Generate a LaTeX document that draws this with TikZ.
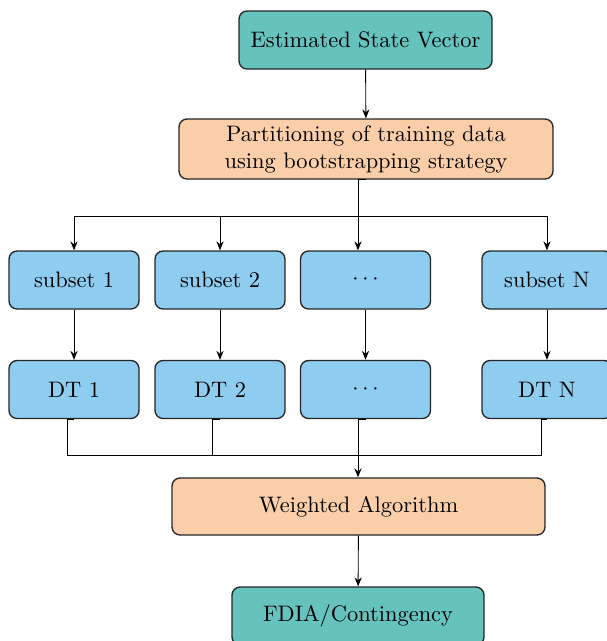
\documentclass[tikz,border=0pt]{standalone}
\usetikzlibrary{arrows.meta}
\definecolor{tealbox}{RGB}{102,194,189}
\definecolor{peachbox}{RGB}{251,206,170}
\definecolor{bluebox}{RGB}{142,204,240}
\def\u{0.446pt}
\tikzset{
  box/.style={draw=black!85, rounded corners=3.6pt, line width=0.6pt, align=center, inner sep=0pt},
  tealnode/.style={box, fill=tealbox},
  peachnode/.style={box, fill=peachbox},
  bluenode/.style={box, fill=bluebox, minimum width=130*\u, minimum height=58*\u},
  conn/.style={line width=0.4pt, -{Stealth[length=4pt,width=3.2pt]}},
  plain/.style={line width=0.4pt},
}
\begin{document}
\begin{tikzpicture}[x=\u, y=-\u]
\useasboundingbox (0,0) rectangle (606,641);
\node[tealnode, minimum width=253*\u, minimum height=58*\u] (esv) at (365.5,40) {Estimated State Vector};
\node[peachnode, minimum width=374*\u, minimum height=60*\u] (part) at (366,149) {Partitioning of training data\\using bootstrapping strategy};
\node[bluenode] (s1) at (74,280) {subset 1};
\node[bluenode] (s2) at (220,280) {subset 2};
\node[bluenode] (s3) at (365.5,280) {$\cdots$};
\node[bluenode] (sN) at (547,280) {subset N};
\node[bluenode] (d1) at (74,389.5) {DT 1};
\node[bluenode] (d2) at (220,389.5) {DT 2};
\node[bluenode] (d3) at (365.5,389.5) {$\cdots$};
\node[bluenode] (dN) at (547,389.5) {DT N};
\node[peachnode, minimum width=373*\u, minimum height=57*\u] (wa) at (358.5,506.5) {Weighted Algorithm};
\node[tealnode, minimum width=252*\u, minimum height=58*\u] (fd) at (358,616) {FDIA/Contingency};
% connectors
\coordinate (split) at (358,216);
\coordinate (merge) at (358,455);
\draw[conn] (esv) -- (part);
\draw[plain] (part.south) -| (split);
\draw[conn] (split) -- (split |- s3.north);
\draw[conn] (split) -| (s1.north);
\draw[conn] (split) -| (s2.north);
\draw[conn] (split) -| (sN.north);
\draw[conn] (s1) -- (d1);
\draw[conn] (s2) -- (d2);
\draw[conn] (s3) -- (d3);
\draw[conn] (sN) -- (dN);
\draw[plain] (d1.south) -| (67,455) -- (merge);
\draw[plain] (d2.south) -| (212,455);
\draw[plain] (d3.south) -| (merge);
\draw[plain] (dN.south) -| (541,455) -- (merge);
\draw[conn] (merge) -- (merge |- wa.north);
\draw[conn] (wa) -- (fd);
\end{tikzpicture}
\end{document}
